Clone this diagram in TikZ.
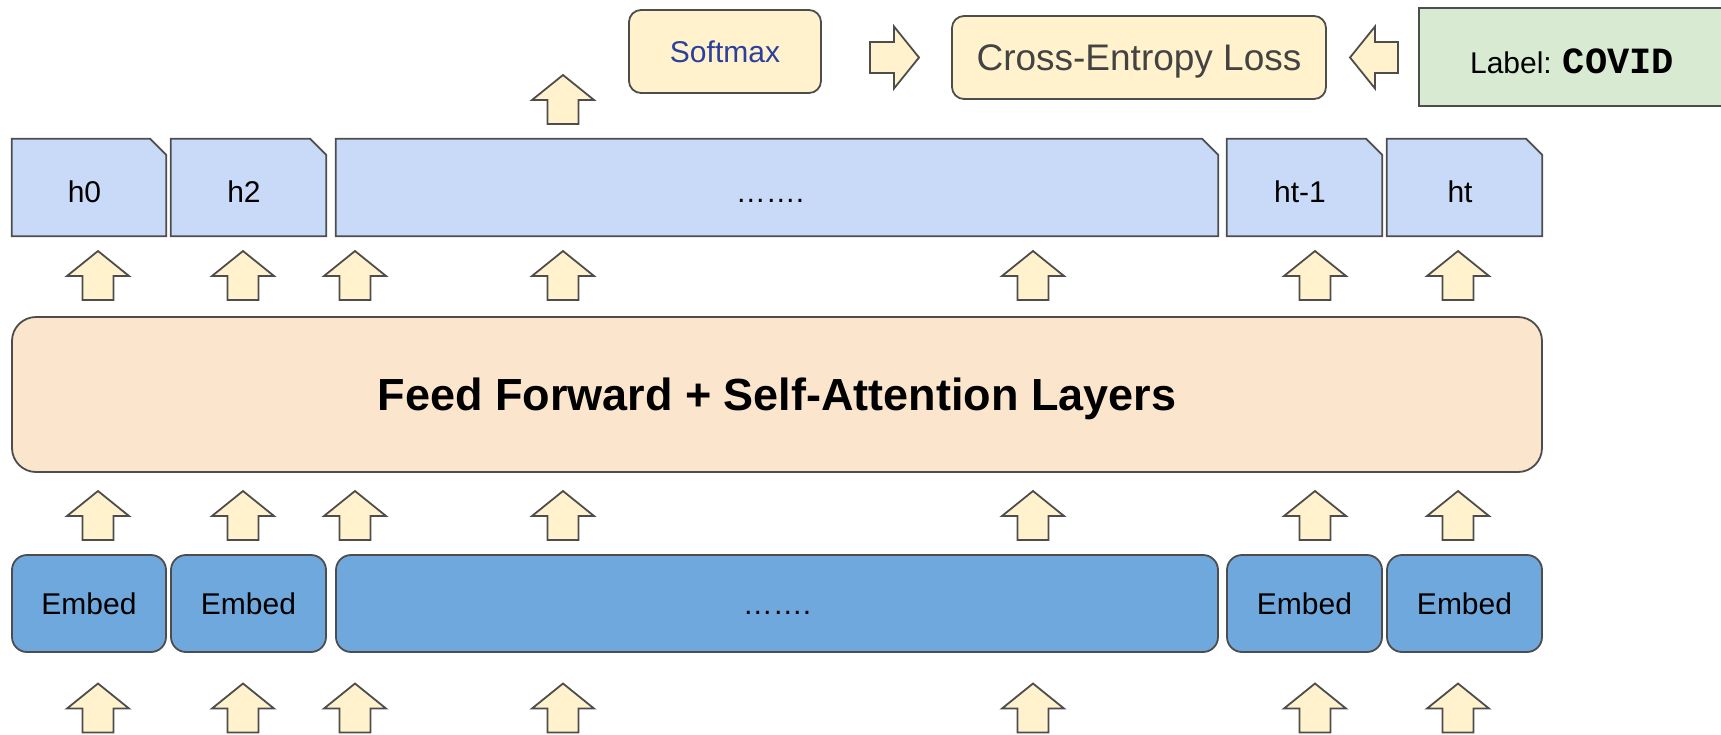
\documentclass[tikz,border=0pt]{standalone}
\usepackage{fontspec}
\setmainfont{Liberation Sans}
\newfontfamily\codefont{Liberation Mono}
\usetikzlibrary{backgrounds}

\definecolor{linegray}{HTML}{4D4D4D}
\definecolor{hblue}{HTML}{C9DAF8}
\definecolor{embblue}{HTML}{6FA8DC}
\definecolor{ffpeach}{HTML}{FCE5CD}
\definecolor{paleyellow}{HTML}{FFF2CC}
\definecolor{palegreen}{HTML}{D9EAD3}
\definecolor{softblue}{HTML}{2B3F9C}
\definecolor{darktext}{HTML}{434343}

\newcommand\setfs[1]{\fontsize{#1pt}{#1pt}\selectfont}

\tikzset{
  outline/.style={draw=linegray, line width=1.8pt},
  blockarrow/.style={outline, fill=paleyellow, line join=miter},
  htext/.style={minimum width=155pt, minimum height=97pt, inner sep=0pt, font=\setfs{30},
    text height=30pt, text depth=0pt, execute at end node={\hspace*{9pt}}},
  hshape/.style={outline, fill=hblue},
  embedbox/.style={outline, fill=embblue, rounded corners=15pt, minimum height=97pt,
    inner sep=0pt, font=\setfs{30}, text height=22pt, text depth=0pt},
  ffbox/.style={outline, fill=ffpeach, rounded corners=24pt, minimum width=1530pt,
    minimum height=155pt, inner sep=0pt, font=\bfseries\setfs{45}, text depth=0pt},
  topbox/.style={outline, fill=paleyellow, rounded corners=12pt, minimum height=83pt, inner sep=0pt},
  labelbox/.style={outline, fill=palegreen, minimum width=306pt, minimum height=98pt, inner sep=0pt,
    font=\setfs{30}, text height=33pt, text depth=0pt},
  pics/uparr/.style={code={
    \draw[blockarrow] (0,0) -- (31,25) -- (15.5,25) -- (15.5,49) -- (-15.5,49)
      -- (-15.5,25) -- (-31,25) -- cycle;}},
  pics/rightarr/.style={code={
    \draw[blockarrow] (0,0) -- (-25,-31) -- (-25,-15.5) -- (-49,-15.5) -- (-49,15.5)
      -- (-25,15.5) -- (-25,31) -- cycle;}},
  pics/leftarr/.style={code={
    \draw[blockarrow] (0,0) -- (25,-31) -- (25,-15.5) -- (48,-15.5) -- (48,15.5)
      -- (25,15.5) -- (25,31) -- cycle;}},
}

\begin{document}
\begin{tikzpicture}[x=1pt, y=-1pt]
\useasboundingbox (0,0) rectangle (1721,734);

% output states with a clipped top-right corner
\node[htext, minimum width=154pt] (h0) at (89,187.5) {h0};
\node[htext] (h2) at (248.5,187.5) {h2};
\node[htext, minimum width=882pt, execute at end node={\hspace*{5pt}}] (hdots) at (777,187.5) {…….};
\node[htext] (htm1) at (1304.5,187.5) {ht-1};
\node[htext] (ht) at (1464.5,187.5) {ht};
\begin{scope}[on background layer]
  \foreach \n in {h0,h2,hdots,htm1,ht}
    \draw[hshape] (\n.south west) -- (\n.north west) -- ([xshift=-16pt]\n.north east)
      -- ([yshift=-16pt]\n.north east) -- (\n.south east) -- cycle;
\end{scope}

% encoder stack
\node[ffbox] (ff) at (777,394.5) {Feed Forward + Self-Attention Layers};

% token embeddings
\node[embedbox, minimum width=154pt] (e0) at (89,603.5) {Embed};
\node[embedbox, minimum width=155pt] (e2) at (248.5,603.5) {Embed};
\node[embedbox, minimum width=882pt] (edots) at (777,603.5) {…….};
\node[embedbox, minimum width=155pt] (etm1) at (1304.5,603.5) {Embed};
\node[embedbox, minimum width=155pt] (et) at (1464.5,603.5) {Embed};

% classification head
\node[topbox, minimum width=192pt, text=softblue, font=\setfs{30}] (softmax) at (725,51.5) {Softmax};
\node[topbox, minimum width=374pt, text=darktext, font=\setfs{37},
  text depth=0pt] (ce) at (1139,57.5) {Cross-Entropy Loss};
\node[labelbox] (label) at (1572,57) {Label: {\codefont\bfseries\setfs{37}COVID}};

% block arrows between the layers
\foreach \x in {98,243,355,563,1033,1315,1458} {
  \pic at (\x,251) {uparr};
  \pic at (\x,491) {uparr};
  \pic at (\x,683.5) {uparr};
}
\pic at (563,75) {uparr};
\pic at (919,57.5) {rightarr};
\pic at (1350,57.5) {leftarr};
\end{tikzpicture}
\end{document}
